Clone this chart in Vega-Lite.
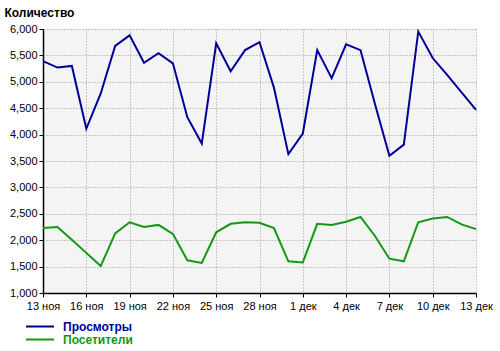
{
  "$schema": "https://vega.github.io/schema/vega-lite/v6.json",
  "autosize": "none",
  "width": 433,
  "height": 264,
  "padding": {"left": 43, "top": 29, "right": 24, "bottom": 58},
  "background": "white",
  "config": {
    "view": {"fill": "#f4f4f4", "stroke": null},
    "font": "Liberation Sans"
  },
  "data": {
    "values": [
      {"date": "2013-11-13", "series": "Просмотры", "value": 5390},
      {"date": "2013-11-14", "series": "Просмотры", "value": 5270},
      {"date": "2013-11-15", "series": "Просмотры", "value": 5300},
      {"date": "2013-11-16", "series": "Просмотры", "value": 4110},
      {"date": "2013-11-17", "series": "Просмотры", "value": 4780},
      {"date": "2013-11-18", "series": "Просмотры", "value": 5680},
      {"date": "2013-11-19", "series": "Просмотры", "value": 5880},
      {"date": "2013-11-20", "series": "Просмотры", "value": 5360},
      {"date": "2013-11-21", "series": "Просмотры", "value": 5540},
      {"date": "2013-11-22", "series": "Просмотры", "value": 5350},
      {"date": "2013-11-23", "series": "Просмотры", "value": 4330},
      {"date": "2013-11-24", "series": "Просмотры", "value": 3830},
      {"date": "2013-11-25", "series": "Просмотры", "value": 5730},
      {"date": "2013-11-26", "series": "Просмотры", "value": 5200},
      {"date": "2013-11-27", "series": "Просмотры", "value": 5600},
      {"date": "2013-11-28", "series": "Просмотры", "value": 5750},
      {"date": "2013-11-29", "series": "Просмотры", "value": 4890},
      {"date": "2013-11-30", "series": "Просмотры", "value": 3630},
      {"date": "2013-12-01", "series": "Просмотры", "value": 4020},
      {"date": "2013-12-02", "series": "Просмотры", "value": 5600},
      {"date": "2013-12-03", "series": "Просмотры", "value": 5070},
      {"date": "2013-12-04", "series": "Просмотры", "value": 5710},
      {"date": "2013-12-05", "series": "Просмотры", "value": 5600},
      {"date": "2013-12-06", "series": "Просмотры", "value": 4580},
      {"date": "2013-12-07", "series": "Просмотры", "value": 3600},
      {"date": "2013-12-08", "series": "Просмотры", "value": 3810},
      {"date": "2013-12-09", "series": "Просмотры", "value": 5950},
      {"date": "2013-12-10", "series": "Просмотры", "value": 5450},
      {"date": "2013-12-11", "series": "Просмотры", "value": 5130},
      {"date": "2013-12-12", "series": "Просмотры", "value": 4800},
      {"date": "2013-12-13", "series": "Просмотры", "value": 4470},
      {"date": "2013-11-13", "series": "Посетители", "value": 2230},
      {"date": "2013-11-14", "series": "Посетители", "value": 2250},
      {"date": "2013-11-15", "series": "Посетители", "value": 2010},
      {"date": "2013-11-16", "series": "Посетители", "value": 1760},
      {"date": "2013-11-17", "series": "Посетители", "value": 1510},
      {"date": "2013-11-18", "series": "Посетители", "value": 2130},
      {"date": "2013-11-19", "series": "Посетители", "value": 2340},
      {"date": "2013-11-20", "series": "Посетители", "value": 2250},
      {"date": "2013-11-21", "series": "Посетители", "value": 2290},
      {"date": "2013-11-22", "series": "Посетители", "value": 2120},
      {"date": "2013-11-23", "series": "Посетители", "value": 1620},
      {"date": "2013-11-24", "series": "Посетители", "value": 1570},
      {"date": "2013-11-25", "series": "Посетители", "value": 2150},
      {"date": "2013-11-26", "series": "Посетители", "value": 2310},
      {"date": "2013-11-27", "series": "Посетители", "value": 2340},
      {"date": "2013-11-28", "series": "Посетители", "value": 2330},
      {"date": "2013-11-29", "series": "Посетители", "value": 2230},
      {"date": "2013-11-30", "series": "Посетители", "value": 1600},
      {"date": "2013-12-01", "series": "Посетители", "value": 1580},
      {"date": "2013-12-02", "series": "Посетители", "value": 2310},
      {"date": "2013-12-03", "series": "Посетители", "value": 2290},
      {"date": "2013-12-04", "series": "Посетители", "value": 2350},
      {"date": "2013-12-05", "series": "Посетители", "value": 2440},
      {"date": "2013-12-06", "series": "Посетители", "value": 2080},
      {"date": "2013-12-07", "series": "Посетители", "value": 1650},
      {"date": "2013-12-08", "series": "Посетители", "value": 1600},
      {"date": "2013-12-09", "series": "Посетители", "value": 2340},
      {"date": "2013-12-10", "series": "Посетители", "value": 2410},
      {"date": "2013-12-11", "series": "Посетители", "value": 2440},
      {"date": "2013-12-12", "series": "Посетители", "value": 2300},
      {"date": "2013-12-13", "series": "Посетители", "value": 2210}
    ]
  },
  "mark": {"type": "line", "strokeWidth": 2},
  "encoding": {
    "x": {
      "field": "date",
      "type": "temporal",
      "scale": {"type": "utc", "nice": false},
      "axis": {
        "title": null,
        "values": [
          {"year": 2013, "month": 11, "date": 13, "utc": true},
          {"year": 2013, "month": 11, "date": 16, "utc": true},
          {"year": 2013, "month": 11, "date": 19, "utc": true},
          {"year": 2013, "month": 11, "date": 22, "utc": true},
          {"year": 2013, "month": 11, "date": 25, "utc": true},
          {"year": 2013, "month": 11, "date": 28, "utc": true},
          {"year": 2013, "month": 12, "date": 1, "utc": true},
          {"year": 2013, "month": 12, "date": 4, "utc": true},
          {"year": 2013, "month": 12, "date": 7, "utc": true},
          {"year": 2013, "month": 12, "date": 10, "utc": true},
          {"year": 2013, "month": 12, "date": 13, "utc": true}
        ],
        "labelExpr": "utcdate(datum.value) + (utcmonth(datum.value) == 10 ? ' ноя' : ' дек')",
        "labelFontSize": 11,
        "labelColor": "#000",
        "labelPadding": 3,
        "labelFlush": false,
        "labelOverlap": false,
        "domainColor": "#000",
        "domainWidth": 1.5,
        "tickColor": "#000",
        "tickSize": 4,
        "grid": true,
        "gridColor": "#999",
        "gridDash": [1, 2],
        "gridWidth": 1
      }
    },
    "y": {
      "field": "value",
      "type": "quantitative",
      "scale": {"domain": [1000, 6000], "nice": false, "zero": false},
      "axis": {
        "values": [1000, 1500, 2000, 2500, 3000, 3500, 4000, 4500, 5000, 5500, 6000],
        "labelExpr": "format(datum.value, ',.0f')",
        "title": "Количество",
        "titleAngle": 0,
        "titleAlign": "left",
        "titleBaseline": "alphabetic",
        "titleX": -39,
        "titleY": -13,
        "titleFontSize": 12,
        "titleFontWeight": "bold",
        "titleColor": "#000",
        "labelFontSize": 11,
        "labelColor": "#000",
        "labelPadding": 2,
        "labelFlush": false,
        "domainColor": "#000",
        "domainWidth": 1.5,
        "tickColor": "#000",
        "tickSize": 4,
        "grid": true,
        "gridColor": "#999",
        "gridDash": [1, 2],
        "gridWidth": 1
      }
    },
    "color": {
      "field": "series",
      "type": "nominal",
      "scale": {"domain": ["Просмотры", "Посетители"], "range": ["#000099", "#119911"]},
      "legend": {
        "title": null,
        "orient": "none",
        "legendX": -18,
        "legendY": 291,
        "symbolType": "stroke",
        "symbolSize": 784,
        "symbolStrokeWidth": 2,
        "clipHeight": 13,
        "rowPadding": 0,
        "labelFontSize": 12,
        "labelFontWeight": "bold",
        "labelOffset": 8,
        "encode": {
          "labels": {"update": {"fill": {"scale": "color", "field": "value"}}}
        }
      }
    }
  }
}
